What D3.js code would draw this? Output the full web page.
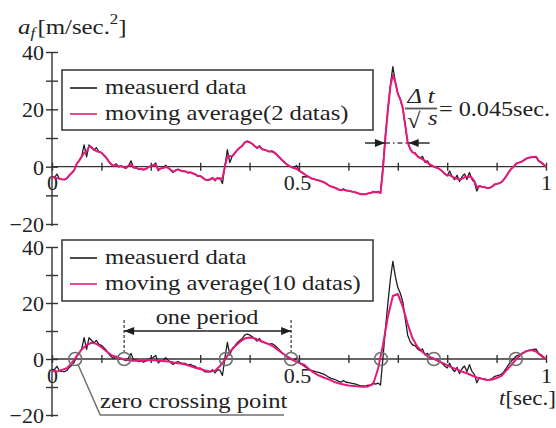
<!DOCTYPE html>
<html>
<head>
<meta charset="utf-8">
<script src="https://cdn.jsdelivr.net/npm/d3@7"></script>
<style>
  html, body { margin: 0; padding: 0; background: #fff; }
  svg { display: block; }
  text { font-family: "Liberation Serif", "Times New Roman", serif; fill: #222; }
</style>
</head>
<body>
<svg id="chart" width="556" height="428"></svg>
<script>
// Acceleration samples, one every 0.005 s from t = 0 to t = 1
const sampleStep = 0.005;
const measured = [
  -3.7, -3.8, -2.6, -4.2, -4.4, -4.5, -4.1, -3.0, -2.2, -1.2,
   1.0,  2.1,  3.5,  7.6,  3.4,  7.6,  6.6,  5.8,  6.6,  5.2,
   4.9,  4.0,  3.1,  1.8,  0.8,  0.2,  1.0,  0.0,  0.3, -0.2,
  -0.6,  0.4,  2.0, -0.4, -0.3, -0.9, -0.7, -1.1, -0.8, -0.2,
   0.3,  0.5,  1.3, -1.4, -0.6, -0.6,  0.5, -0.4, -1.2, -2.0,
  -1.3, -0.9, -1.4, -1.6, -1.6, -2.2, -1.9, -2.4, -2.6, -3.4,
  -3.2, -3.9, -4.6, -4.6, -4.6, -3.8, -4.9, -3.9, -4.0, -5.9,
   0.3,  5.9,  1.4,  3.8,  4.7,  5.8,  6.6,  7.3,  8.5,  8.9,
   8.6,  8.0,  7.2,  6.4,  7.3,  6.1,  5.9,  5.6,  5.2,  5.5,
   5.0,  4.2,  3.3,  2.4,  1.6,  0.8,  0.3, -0.2, -0.5,  0.4,
  -1.4, -1.9, -2.5, -3.1, -3.6, -4.1, -4.3, -4.6, -4.8, -5.1,
  -5.4, -5.9, -6.5, -6.9, -7.2, -7.5, -8.0, -8.3, -7.7, -8.3,
  -8.4, -8.6, -8.8, -9.0, -9.3, -9.6, -9.6, -9.7, -9.3, -9.3,
  -8.6, -9.0, -8.6, -9.3,  0.5, 11.0, 20.0, 28.5, 34.9, 29.5,
  25.5, 23.5, 20.5, 14.5,  8.5,  6.2,  5.0,  4.8,  3.6,  3.0,
   3.6,  1.5,  2.0,  0.5,  0.4, -0.2, -0.4, -0.9, -1.6, -2.5,
  -3.2, -1.5, -3.5, -4.5, -3.0, -5.2, -3.5, -2.5, -4.5, -2.0,
  -4.4, -5.5, -8.5, -6.6, -7.0, -7.1, -7.4, -7.4, -7.1, -6.3,
  -6.0, -5.8, -5.4, -4.4, -3.2, -1.8, -0.7,  0.1,  1.1,  1.4,
   1.7,  2.2,  2.8,  3.1,  3.3,  3.4,  3.5,  2.0,  1.5,  0.8,
  -0.1
];

// Moving average over 2 samples, same time grid
const average2 = [
  -3.7, -3.8, -4.0, -4.2, -4.4, -4.5, -4.1, -3.0, -2.2, -1.2,
   1.0,  2.1,  3.5,  4.8,  5.2,  7.0,  6.8,  5.9,  5.4,  5.2,
   4.9,  4.0,  3.1,  1.8,  0.8,  0.3,  0.6,  0.0,  0.2, -0.2,
  -0.5,  0.4,  0.8, -0.2, -0.4, -0.8, -0.8, -1.0, -0.8, -0.2,
   0.2,  0.5,  0.7, -1.0, -0.6, -0.5, -0.1, -0.4, -1.1, -1.7,
  -1.3, -1.0, -1.3, -1.6, -1.7, -2.0, -2.0, -2.3, -2.7, -3.2,
  -3.3, -3.8, -4.5, -4.7, -4.4, -4.0, -4.6, -4.0, -4.3, -4.0,
   0.0,  3.6,  3.6,  3.7,  4.7,  5.8,  6.6,  7.2,  8.4,  8.8,
   8.5,  8.0,  7.2,  6.6,  7.0,  6.1,  5.9,  5.6,  5.3,  5.3,
   4.9,  4.2,  3.3,  2.4,  1.6,  0.8,  0.3, -0.2, -0.5, -0.8,
  -1.4, -1.9, -2.5, -3.1, -3.6, -4.1, -4.3, -4.6, -4.8, -5.1,
  -5.4, -5.9, -6.5, -6.9, -7.2, -7.5, -8.0, -8.2, -8.0, -8.3,
  -8.4, -8.6, -8.8, -9.0, -9.3, -9.6, -9.6, -9.6, -9.3, -9.2,
  -8.8, -8.9, -8.8, -9.2, -1.0, 10.5, 20.0, 28.0, 32.0, 29.5,
  25.5, 23.5, 20.5, 14.5,  8.5,  6.2,  5.0,  4.6,  3.6,  3.0,
   2.6,  2.0,  1.4,  0.8,  0.3, -0.2, -0.4, -0.9, -1.6, -2.5,
  -3.1, -2.9, -3.5, -3.9, -4.2, -4.4, -4.2, -3.7, -3.5, -3.4,
  -3.9, -5.0, -7.2, -6.8, -7.0, -7.1, -7.4, -7.4, -7.1, -6.3,
  -6.0, -5.8, -5.4, -4.4, -3.2, -1.8, -0.7,  0.1,  1.1,  1.4,
   1.7,  2.2,  2.8,  3.1,  3.3,  3.4,  3.5,  2.0,  1.5,  0.8,
  -0.1
];

// Moving average over 10 samples, one value every 0.01 s
const averageStep = 0.01;
const average10 = [
  -4.2, -4.5, -3.9, -3.3, -1.5,  1.0,  3.4,  5.0,  5.8,  5.4,
   4.2,  2.8,  1.4,  0.7,  0.1, -0.2, -0.6, -0.6, -0.6, -0.5,
  -0.4, -0.5, -0.6, -0.8, -1.0, -1.4, -1.6, -2.0, -2.5, -3.1,
  -3.6, -4.1, -4.5, -4.2, -2.5, -0.3,  2.5,  4.5,  6.1,  7.3,
   7.7,  7.4,  6.6,  5.9,  5.2,  4.2,  2.9,  1.6,  0.5, -0.6,
  -1.4, -2.0, -3.6, -4.9, -5.9, -6.6, -7.3, -8.1, -8.7, -9.1,
  -9.5, -9.6, -9.8, -9.9, -9.8, -9.0, -3.5,  5.0, 15.2, 22.5,
  23.2, 18.7, 12.5,  7.3,  4.3,  2.5,  1.0,  0.4, -0.6, -1.4,
  -2.2, -3.1, -3.7, -4.5, -5.1, -5.9, -6.6, -7.1, -7.5, -7.4,
  -6.8, -6.0, -4.0, -2.1,  0.0,  1.8,  2.8,  3.2,  2.7,  1.2,
  -0.1
];

// Zero crossings of the 10-sample average (s)
const zeroCrossings = [0.047, 0.146, 0.352, 0.484, 0.666, 0.773, 0.939];
// "one period" spans from the 2nd to the 4th crossing
const periodStart = zeroCrossings[1];
const periodEnd = zeroCrossings[3];

const yTickValues = [-20, -10, 0, 10, 20, 30, 40];
const yTickLabels = [-20, 0, 20, 40];
const xTickValues = d3.range(0, 11).map(d => d / 10);
const xTickLabels = [0, 0.5, 1];

const legendTop = ["measuerd data", "moving average(2 datas)"];
const legendBottom = ["measuerd data", "moving average(10 datas)"];

const BLACK = "#1e1e1e";
const PINK = "#e5197b";
const GRAY = "#707070";
const FONT = 22;
const STRETCH = 1.12;   // the typeset labels are set slightly wide

const svg = d3.select("#chart");

const defs = svg.append("defs");
defs.append("marker")
  .attr("id", "head")
  .attr("viewBox", "0 0 10 8")
  .attr("refX", 10).attr("refY", 4)
  .attr("markerWidth", 11).attr("markerHeight", 8)
  .attr("markerUnits", "userSpaceOnUse")
  .attr("orient", "auto")
  .append("path").attr("d", "M0,0 L10,4 L0,8 Z").attr("fill", BLACK);

// text placed at (px, py), widened horizontally about its anchor
function label(px, py, opts = {}) {
  const g = svg.append("g")
    .attr("transform", `translate(${px},${py}) scale(${opts.sx || STRETCH},1)`);
  return g.append("text")
    .attr("x", 0).attr("y", 0)
    .attr("font-size", opts.size || FONT)
    .attr("text-anchor", opts.anchor || "start");
}

const x = d3.scaleLinear().domain([0, 1]).range([52, 546]);
const yTop = d3.scaleLinear().domain([-20, 40]).range([224, 52]);
const yBot = d3.scaleLinear().domain([-20, 40]).range([415, 247]);

const tMeasured = measured.map((d, i) => i * sampleStep);
const tAverage10 = average10.map((d, i) => i * averageStep);

function panel(y, avgValues, avgTimes, legendLabels, legendBox) {
  const g = svg.append("g");

  // y axis with ticks crossing the line
  const yAxis = d3.axisLeft(y)
    .tickValues(yTickValues)
    .tickSize(6)
    .tickSizeOuter(0)
    .tickPadding(2)
    .tickFormat(d => yTickLabels.includes(d) ? d3.format("")(d).replace("-", "\u2212") : "");
  const ya = g.append("g").attr("transform", `translate(${x(0)},0)`).call(yAxis);
  ya.attr("font-family", null);
  ya.select(".domain").attr("stroke", "#333").attr("stroke-width", 1.4)
    .attr("d", `M0,${y(-20) + 2}V${y(40)}`);
  ya.selectAll(".tick line").attr("x1", 6).attr("stroke", "#333").attr("stroke-width", 1.4);
  ya.selectAll(".tick text")
    .attr("font-size", FONT).attr("fill", "#222")
    .attr("dy", "0.34em");

  // time axis along the zero line
  const xAxis = d3.axisBottom(x)
    .tickValues(xTickValues)
    .tickSize(4)
    .tickSizeOuter(0)
    .tickPadding(5)
    .tickFormat(d => xTickLabels.includes(d) ? String(d) : "");
  const xa = g.append("g").attr("transform", `translate(0,${y(0)})`).call(xAxis);
  xa.attr("font-family", null);
  xa.select(".domain").attr("stroke", "#333").attr("stroke-width", 1.4)
    .attr("d", `M${x(0)},0H${x(1)}`);
  xa.selectAll(".tick line").attr("y1", -4).attr("stroke", "#333").attr("stroke-width", 1.4);
  xa.selectAll(".tick text")
    .attr("font-size", FONT).attr("fill", "#222")
    .attr("dy", "0.66em")
    .attr("dx", d => d === 0.5 ? -2 : 0);

  const line = d3.line().x(d => x(d[0])).y(d => y(d[1]));

  g.append("path")
    .datum(measured.map((v, i) => [tMeasured[i], v]))
    .attr("d", line)
    .attr("fill", "none").attr("stroke", BLACK).attr("stroke-width", 1.3)
    .attr("stroke-linejoin", "round");

  g.append("path")
    .datum(avgValues.map((v, i) => [avgTimes[i], v]))
    .attr("d", line)
    .attr("fill", "none").attr("stroke", PINK).attr("stroke-width", 2)
    .attr("stroke-linejoin", "round");

  // legend
  g.append("rect")
    .attr("x", legendBox.x).attr("y", legendBox.y)
    .attr("width", legendBox.w).attr("height", legendBox.h)
    .attr("fill", "#fff").attr("stroke", "#333").attr("stroke-width", 1.5);
  [BLACK, PINK].forEach((c, i) => {
    const yy = legendBox.y + 18 + i * 26;
    g.append("line")
      .attr("x1", legendBox.x + 8).attr("x2", legendBox.x + 35)
      .attr("y1", yy).attr("y2", yy)
      .attr("stroke", c).attr("stroke-width", 1.6);
    label(legendBox.x + 43, yy + 6).text(legendLabels[i]);
  });
}

panel(yTop, average2, tMeasured, legendTop, { x: 62, y: 70, w: 311, h: 60 });
panel(yBot, average10, tAverage10, legendBottom, { x: 62, y: 240, w: 311, h: 61 });

// y axis title: a_f [m/sec.^2]
const title = label(18, 34, { sx: 1.13 });
title.append("tspan").attr("font-style", "italic").text("a");
title.append("tspan").attr("font-style", "italic").attr("font-size", 15).attr("dy", 4).text("f");
title.append("tspan").attr("dy", -4).attr("dx", 2).text("[m/sec.");
title.append("tspan").attr("font-size", 15).attr("dy", -10).text("2");
title.append("tspan").attr("dy", 10).text("]");

// time axis title: t[sec.]
const tTitle = label(499, 405, { sx: 1.05 });
tTitle.append("tspan").attr("font-style", "italic").text("t");
tTitle.append("tspan").text("[sec.]");

// width of the peak: Δt/√s = 0.045sec.
const arrowY = 143;
const peakLeft = 0.674, peakRight = 0.722;
svg.append("line")
  .attr("x1", x(peakLeft) - 20).attr("x2", x(peakLeft))
  .attr("y1", arrowY).attr("y2", arrowY)
  .attr("stroke", BLACK).attr("stroke-width", 1.4)
  .attr("marker-end", "url(#head)");
svg.append("line")
  .attr("x1", x(peakRight) + 21).attr("x2", x(peakRight))
  .attr("y1", arrowY).attr("y2", arrowY)
  .attr("stroke", BLACK).attr("stroke-width", 1.4)
  .attr("marker-end", "url(#head)");
svg.append("line")
  .attr("x1", x(peakLeft)).attr("x2", x(peakRight))
  .attr("y1", arrowY).attr("y2", arrowY)
  .attr("stroke", "#444").attr("stroke-width", 1.3)
  .attr("stroke-dasharray", "5,3,1.5,3");

const frX = 421;
label(frX, 103, { anchor: "middle" }).attr("font-style", "italic").text("\u0394 t");
svg.append("line").attr("x1", frX - 16).attr("x2", frX + 16).attr("y1", 108.5).attr("y2", 108.5)
  .attr("stroke", "#555").attr("stroke-width", 1.8);
label(frX - 14, 128).text("\u221a");
label(frX + 7, 125).attr("font-style", "italic").text("s");
label(439, 116, { sx: 1.1 }).text("= 0.045sec.");

// one period between two zero crossings
const opY = 331;
[periodStart, periodEnd].forEach(t => {
  svg.append("line")
    .attr("x1", x(t)).attr("x2", x(t))
    .attr("y1", 320).attr("y2", yBot(0) - 6)
    .attr("stroke", "#444").attr("stroke-width", 1.3)
    .attr("stroke-dasharray", "3,2");
});
const mid = (x(periodStart) + x(periodEnd)) / 2;
[periodStart, periodEnd].forEach(t => {
  svg.append("line")
    .attr("x1", mid).attr("x2", x(t))
    .attr("y1", opY).attr("y2", opY)
    .attr("stroke", BLACK).attr("stroke-width", 1.4)
    .attr("marker-end", "url(#head)");
});
label(207, 324, { anchor: "middle", sx: 1.1 }).text("one period");

// zero crossing markers
svg.selectAll("circle.zc")
  .data(zeroCrossings)
  .join("circle")
  .attr("class", "zc")
  .attr("cx", d => x(d)).attr("cy", yBot(0))
  .attr("r", 6.5)
  .attr("fill", "none").attr("stroke", GRAY).attr("stroke-width", 1.6);

// leader to the label
const lx0 = x(zeroCrossings[0]);
svg.append("path")
  .attr("d", `M${lx0 + 3},${yBot(0) + 6} L${lx0 + 25},415 H284`)
  .attr("fill", "none").attr("stroke", GRAY).attr("stroke-width", 1.5);
label(100, 408, { sx: 1.12 }).text("zero crossing point");
</script>
</body>
</html>
